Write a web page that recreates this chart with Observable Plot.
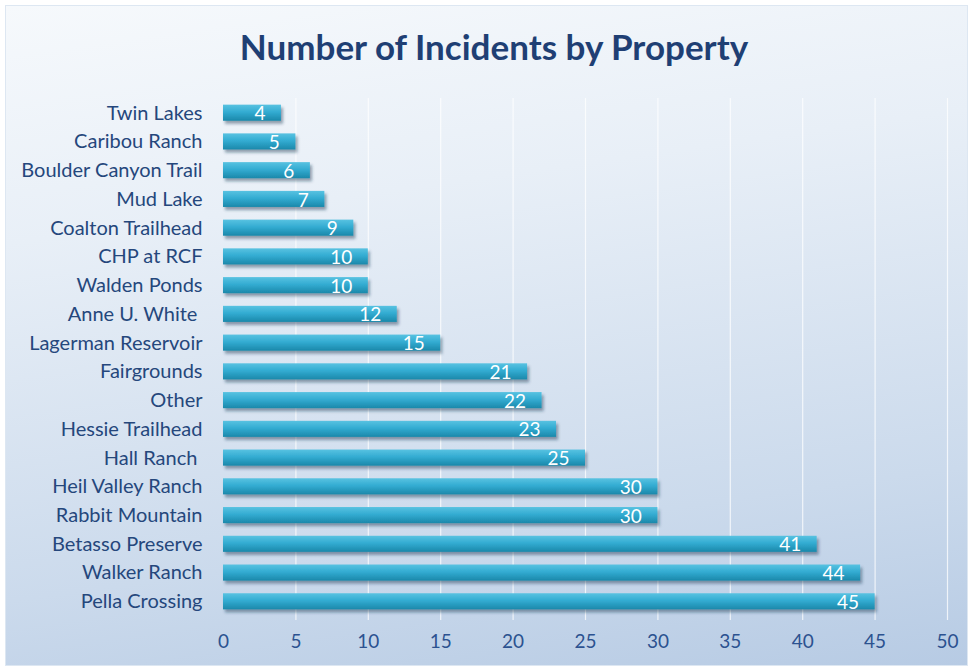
<!DOCTYPE html>
<html><head><meta charset="utf-8">
<script src="https://cdn.jsdelivr.net/npm/d3@7"></script>
<script src="https://cdn.jsdelivr.net/npm/@observablehq/plot@0.6"></script>
<style>
html,body{margin:0;padding:0;background:#fff;}
#wrap{position:relative;width:974px;height:666px;overflow:hidden;}
#panel{position:absolute;left:5px;top:5px;width:963px;height:661px;
 background:linear-gradient(172deg,#f6f9fc 0%,#e8eff7 30%,#cbdaec 75%,#b7cbe4 100%);
 border:1px solid #dde7f2;box-sizing:border-box;}
#title{position:absolute;left:0;top:25px;width:988px;text-align:center;
 font-family:Lato,"Open Sans",sans-serif;font-weight:700;font-size:35px;color:#1f3f74;}
#chart{position:absolute;left:0;top:0;}
</style></head>
<body>
<div id="wrap"><div id="panel"></div><div id="title">Number of Incidents by Property</div><div id="chart"></div></div>
<script>
const properties = ["Twin Lakes","Caribou Ranch","Boulder Canyon Trail","Mud Lake","Coalton Trailhead","CHP at RCF","Walden Ponds","Anne U. White\u00a0","Lagerman Reservoir","Fairgrounds","Other","Hessie Trailhead","Hall Ranch\u00a0","Heil Valley Ranch","Rabbit Mountain","Betasso Preserve","Walker Ranch","Pella Crossing"];
const incidents = [4,5,6,7,9,10,10,12,15,21,22,23,25,30,30,41,44,45];
const xTicks = [0,5,10,15,20,25,30,35,40,45,50];
const gridTicks = [5,10,15,20,25,30,35,40,45,50];

const data = properties.map((p,i)=>({property:p, value:incidents[i]}));

const chart = Plot.plot({
  width: 974, height: 666,
  marginLeft: 223, marginRight: 27, marginTop: 92, marginBottom: 44,
  style: {background:"transparent", fontFamily:"Lato, 'Open Sans', sans-serif", fontSize:"19px", overflow:"visible"},
  x: {domain:[0,50], ticks:xTicks},
  y: {domain:properties, padding:0.44, round:false},
  marks: [
    Plot.ruleX(gridTicks, {stroke:"#ffffff", strokeOpacity:0.75, strokeWidth:1.2, insetTop:6, insetBottom:2}),
    Plot.barX(data, {x:"value", y:"property", fill:"url(#barGrad)", className:"bars"}),
    Plot.text(data, {x:"value", y:"property", text:d=>String(d.value), textAnchor:"end", dx:-16, dy:1, fill:"#ffffff", fontSize:19}),
    Plot.axisY({tickSize:0, tickPadding:21, fill:"#25477c", fontSize:20, label:null}),
    Plot.axisX({tickSize:0, tickPadding:12, fill:"#2c5290", fontSize:19, label:null, ticks:xTicks, tickFormat:d=>String(d)})
  ]
});

const svg = d3.select(chart);
const defs = svg.insert("defs", ":first-child");
const g = defs.append("linearGradient").attr("id","barGrad").attr("x1",0).attr("y1",0).attr("x2",0).attr("y2",1);
g.append("stop").attr("offset","0%").attr("stop-color","#58c2e1");
g.append("stop").attr("offset","45%").attr("stop-color","#33acd2");
g.append("stop").attr("offset","100%").attr("stop-color","#1b88aa");
const f = defs.append("filter").attr("id","shadow").attr("x","-5%").attr("y","-30%").attr("width","110%").attr("height","190%");
f.append("feDropShadow").attr("dx",2).attr("dy",3).attr("stdDeviation",1.8).attr("flood-color","#1a3550").attr("flood-opacity",0.45);
svg.selectAll("g.bars").attr("filter","url(#shadow)");
document.getElementById("chart").appendChild(chart);
</script>
</body></html>
